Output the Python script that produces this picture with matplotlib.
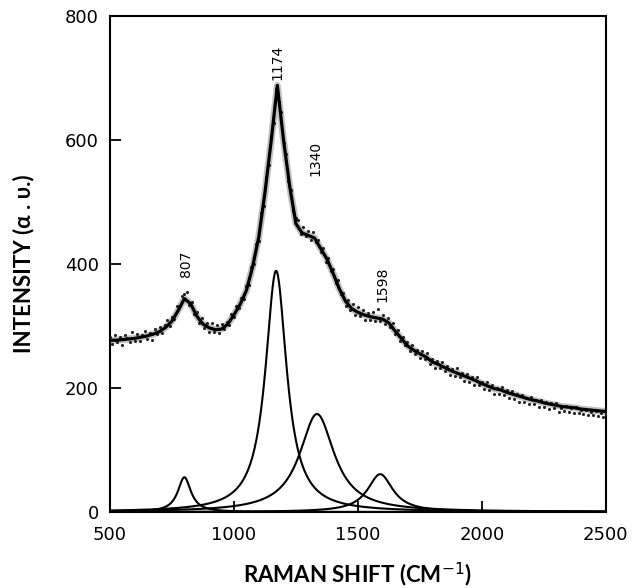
import numpy as np
import matplotlib
matplotlib.use("Agg")
import matplotlib.pyplot as plt

# fitted envelope, read every 25 cm-1
fit_x = np.arange(500, 2501, 25)
fit_y = [277, 277, 278, 279, 280, 282, 284, 287, 291, 298,
         308, 325, 344, 336, 316, 303, 297, 294, 295, 303,
         318, 335, 357, 395, 443, 515, 598, 688, 600, 525,
         465, 450, 446, 442, 425, 408, 385, 360, 340, 328,
         322, 318, 315, 313, 311, 305, 292, 280, 268, 261,
         255, 250, 242, 238, 233, 228, 224, 220, 216, 212,
         207, 203, 199, 197, 193, 190, 187, 184, 181, 179,
         176, 174, 172, 170, 169, 168, 166, 165, 164, 163, 162]

# measured points, every 10 cm-1
meas_x = np.arange(500, 2501, 10)
meas_y = [282, 271, 286, 274, 282, 270, 285, 280, 274, 290,
          276, 287, 275, 285, 292, 279, 289, 278, 295, 287,
          299, 288, 302, 309, 300, 314, 312, 332, 333, 348,
          352, 355, 334, 339, 319, 322, 304, 313, 297, 305,
          290, 305, 291, 301, 289, 303, 295, 307, 301, 319,
          314, 333, 329, 345, 343, 364, 366, 395, 400, 433,
          437, 482, 494, 540, 560, 607, 628, 682, 662, 645,
          595, 578, 534, 520, 485, 474, 471, 448, 459, 445,
          454, 438, 452, 435, 439, 420, 426, 404, 409, 389,
          392, 369, 374, 352, 354, 332, 342, 325, 335, 318,
          331, 316, 325, 310, 321, 309, 322, 308, 327, 308,
          317, 303, 313, 299, 305, 287, 293, 275, 283, 269,
          274, 259, 270, 255, 261, 248, 259, 247, 257, 239,
          247, 233, 243, 232, 242, 227, 236, 221, 231, 220,
          232, 217, 224, 212, 223, 210, 218, 205, 217, 204,
          210, 198, 209, 196, 205, 191, 200, 191, 201, 188,
          196, 184, 195, 183, 190, 178, 189, 178, 184, 174,
          185, 174, 181, 170, 180, 169, 177, 166, 175, 167,
          175, 162, 168, 163, 171, 161, 168, 159, 169, 160,
          164, 158, 165, 156, 161, 157, 163, 155, 160, 153, 158]

# lorentzian components
peak_pos = [800, 1170, 1335, 1590]
peak_height = [56, 389, 158, 61]
peak_hwhm = [32, 52, 85, 62]

peak_labels = ["807", "1174", "1340", "1598"]
label_x = [807, 1174, 1330, 1598]
label_y = [400, 725, 570, 367]

fig = plt.figure(figsize=(6.33, 5.88), dpi=100)
ax = fig.add_axes([0.1738, 0.1293, 0.7832, 0.8435])

xx = np.linspace(500, 2500, 1001)
for c, h, w in zip(peak_pos, peak_height, peak_hwhm):
    ax.plot(xx, h / (1 + ((xx - c) / w) ** 2), color="black", lw=1.5)

# soft band under the fit, then the dots
ax.plot(fit_x, fit_y, color="#888888", lw=5, alpha=0.5, zorder=2)
ax.scatter(meas_x, meas_y, s=5, color="#222222", linewidths=0, zorder=3)
ax.plot(fit_x, fit_y, color="black", lw=2.3, zorder=4)

for t, lx, ly in zip(peak_labels, label_x, label_y):
    ax.text(lx, ly, t, rotation=90, ha="center", va="center",
            fontsize=10, family="DejaVu Sans")

ax.set_xlim(500, 2500)
ax.set_ylim(0, 800)
ax.set_xticks([500, 1000, 1500, 2000, 2500])
ax.set_yticks([0, 200, 400, 600, 800])
ax.tick_params(direction="in", length=8, width=1.3, labelsize=13, pad=8)
ax.tick_params(axis="x", pad=10)
for s in ax.spines.values():
    s.set_linewidth(1.5)

ax.set_xlabel("RAMAN SHIFT (CM$^{-1}$)", fontsize=16, fontweight="bold",
              family="Lato", labelpad=12)
ax.set_ylabel("INTENSITY (α . υ.)", fontsize=16, fontweight="bold",
              family="Lato", labelpad=22)

fig.savefig("out.png", dpi=100)
